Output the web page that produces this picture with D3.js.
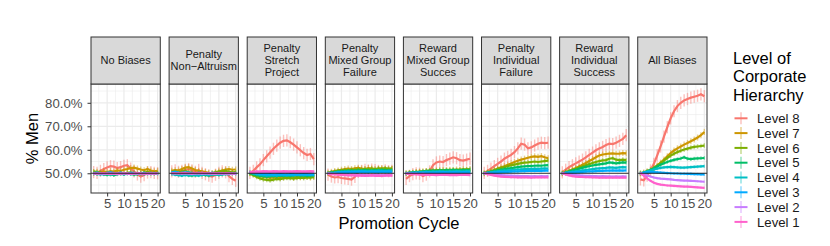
<!DOCTYPE html>
<html lang="en">
<head>
<meta charset="utf-8">
<title>% Men by level</title>
<script src="https://d3js.org/d3.v7.min.js"></script>
<style>
  body { margin: 0; background: #fff; }
  text { font-family: "Liberation Sans", Arial, sans-serif; }
</style>
</head>
<body>
<div id="chart"></div>
<script>
// ---- data ----
var panelNames = ["No Biases", "Penalty\nNon\u2212Altruism", "Penalty\nStretch\nProject",
  "Penalty\nMixed Group\nFailure", "Reward\nMixed Group\nSucces", "Penalty\nIndividual\nFailure",
  "Reward\nIndividual\nSuccess", "All Biases"];
var levels = ["Level 8", "Level 7", "Level 6", "Level 5", "Level 4", "Level 3", "Level 2", "Level 1"];
var levelColors = ["#F8766D", "#CD9600", "#7CAE00", "#00BE67", "#00BFC4", "#00A9FF", "#C77CFF", "#FF61CC"];
var errHalf = [2.6, 1.3, 1.0, 0.8, 0.7, 0.6, 0.5, 0.5];   // error bar half-widths per level
var cycles = [1, 2, 3, 4, 5, 6, 7, 8, 9, 10, 11, 12, 13, 14, 15, 16, 17, 18, 19, 20];
var yTicks = [50, 60, 70, 80];
var xTicks = [5, 10, 15, 20];

// each panel: one row per level, Level 8 first
var noBiases = [
  [50.5, 50.2, 51.0, 51.8, 52.5, 53.0, 52.8, 52.2, 52.6, 53.2, 53.4, 52.0, 50.8, 49.5, 48.6, 49.2, 50.3, 50.5, 50.2, 50.0],
  [50.3, 50.6, 50.4, 50.8, 50.5, 50.9, 50.7, 51.2, 51.0, 51.5, 51.8, 52.2, 52.4, 52.0, 51.6, 51.3, 51.8, 51.2, 50.8, 51.0],
  [50.8, 50.5, 50.2, 49.8, 50.0, 49.7, 49.5, 49.9, 50.1, 49.8, 50.2, 50.4, 50.1, 49.8, 50.0, 50.3, 50.6, 50.2, 50.0, 50.1],
  [49.8, 49.6, 49.9, 49.5, 49.3, 49.6, 49.2, 49.5, 49.8, 49.6, 49.9, 49.7, 49.4, 49.6, 49.9, 50.0, 49.8, 49.7, 49.9, 50.0],
  [49.9, 49.7, 49.5, 49.6, 49.8, 49.4, 49.6, 49.9, 49.7, 49.5, 49.8, 49.6, 49.9, 50.0, 49.7, 49.6, 49.8, 49.9, 49.7, 49.8],
  [50.1, 50.3, 50.0, 49.8, 50.2, 50.4, 50.1, 49.9, 50.3, 50.0, 49.8, 50.2, 50.1, 49.9, 50.0, 50.2, 49.9, 50.1, 50.0, 49.9],
  [49.8, 49.9, 50.1, 49.7, 49.9, 50.0, 49.8, 49.6, 49.9, 50.1, 49.8, 49.7, 49.9, 49.8, 50.0, 49.8, 49.7, 49.9, 50.0, 49.8],
  [50.0, 49.8, 49.9, 50.1, 49.9, 49.7, 49.9, 50.0, 49.8, 49.9, 50.0, 49.8, 49.9, 50.1, 49.9, 49.8, 50.0, 49.9, 49.8, 50.0]
];
var nonAltruism = [
  [50.8, 51.2, 50.6, 51.0, 51.5, 51.8, 51.2, 50.6, 51.4, 50.2, 49.6, 49.0, 48.6, 49.4, 50.2, 50.8, 50.4, 48.8, 47.6, 46.8],
  [51.0, 51.3, 51.2, 51.8, 52.4, 52.6, 52.0, 51.4, 51.0, 50.8, 50.5, 50.2, 50.0, 50.4, 50.8, 51.2, 51.6, 51.8, 51.5, 51.6],
  [50.6, 50.8, 50.4, 50.7, 51.0, 50.5, 50.2, 49.8, 50.0, 49.6, 49.4, 49.8, 50.1, 50.4, 50.6, 50.8, 51.0, 50.6, 50.4, 50.5],
  [49.8, 49.6, 49.4, 49.2, 49.5, 49.1, 49.0, 49.3, 49.2, 49.5, 49.3, 49.0, 49.4, 49.6, 49.3, 49.5, 49.7, 49.8, 49.9, 50.0],
  [49.6, 49.4, 49.2, 49.0, 49.3, 49.1, 49.4, 49.2, 49.0, 49.3, 49.5, 49.2, 49.4, 49.6, 49.3, 49.5, 49.7, 49.6, 49.8, 49.7],
  [50.4, 50.6, 50.3, 50.2, 50.5, 50.3, 50.1, 50.0, 50.2, 50.1, 49.9, 50.0, 50.2, 50.1, 50.0, 49.8, 49.9, 50.0, 49.8, 49.9],
  [50.0, 49.9, 50.1, 49.8, 50.0, 49.9, 49.7, 49.9, 50.0, 49.8, 49.9, 50.0, 49.8, 49.7, 49.9, 50.0, 49.8, 49.9, 49.8, 49.7],
  [50.1, 50.0, 49.9, 50.1, 50.2, 50.0, 49.9, 50.1, 50.0, 50.2, 50.1, 49.9, 50.0, 50.1, 50.0, 49.9, 50.1, 50.0, 49.9, 50.0]
];
var stretchProject = [
  [50.2, 51.0, 52.5, 53.8, 55.6, 57.2, 58.8, 60.4, 61.8, 63.0, 63.8, 64.0, 63.2, 62.2, 61.0, 59.8, 58.6, 57.8, 58.2, 56.0],
  [50.0, 49.6, 49.2, 48.8, 48.5, 48.3, 48.0, 48.2, 48.4, 48.1, 48.3, 48.6, 48.4, 48.2, 48.5, 48.3, 48.6, 48.4, 48.2, 48.5],
  [49.8, 49.2, 48.4, 47.8, 47.4, 47.2, 47.0, 47.3, 47.6, 47.5, 47.8, 48.0, 47.9, 47.7, 48.0, 48.1, 47.9, 48.2, 48.1, 48.3],
  [50.0, 49.6, 49.2, 48.9, 48.8, 48.6, 48.7, 48.9, 48.8, 49.0, 48.9, 49.1, 48.9, 49.0, 49.2, 49.0, 49.1, 48.9, 49.0, 49.1],
  [50.4, 50.0, 49.6, 49.3, 49.2, 49.0, 49.1, 49.2, 49.0, 49.3, 49.2, 49.1, 49.3, 49.2, 49.4, 49.3, 49.2, 49.4, 49.3, 49.2],
  [50.6, 50.2, 49.9, 49.7, 49.6, 49.5, 49.6, 49.4, 49.5, 49.6, 49.5, 49.4, 49.6, 49.5, 49.4, 49.5, 49.6, 49.5, 49.4, 49.5],
  [50.3, 50.4, 50.5, 50.6, 50.5, 50.7, 50.6, 50.5, 50.7, 50.6, 50.5, 50.6, 50.7, 50.6, 50.5, 50.6, 50.7, 50.6, 50.5, 50.6],
  [50.5, 50.6, 50.8, 50.7, 50.9, 50.8, 50.7, 50.9, 50.8, 50.7, 50.9, 50.8, 50.7, 50.8, 50.9, 50.8, 50.7, 50.8, 50.9, 50.8]
];
var mixedFailure = [
  [49.4, 48.6, 48.2, 48.4, 48.0, 47.8, 47.6, 47.3, 48.5, 50.6, 51.0, 51.4, 51.2, 51.6, 51.3, 51.0, 50.8, 51.2, 50.9, 51.0],
  [50.2, 50.6, 50.9, 51.2, 51.5, 51.8, 52.0, 51.8, 52.1, 52.3, 52.0, 51.8, 52.2, 52.0, 51.7, 51.9, 52.1, 51.8, 51.6, 51.9],
  [50.0, 50.4, 50.8, 51.0, 51.2, 51.4, 51.3, 51.6, 51.5, 51.8, 51.6, 51.9, 51.7, 52.0, 51.8, 52.1, 51.9, 52.2, 52.0, 52.1],
  [50.1, 50.3, 50.5, 50.7, 50.8, 50.9, 51.0, 51.1, 51.0, 51.2, 51.1, 51.3, 51.2, 51.1, 51.3, 51.2, 51.4, 51.3, 51.2, 51.4],
  [50.0, 50.2, 50.3, 50.5, 50.6, 50.7, 50.8, 50.7, 50.9, 50.8, 51.0, 50.9, 50.8, 51.0, 50.9, 51.1, 51.0, 50.9, 51.0, 51.1],
  [49.9, 50.0, 50.1, 50.3, 50.4, 50.5, 50.4, 50.6, 50.5, 50.6, 50.7, 50.6, 50.5, 50.7, 50.6, 50.5, 50.7, 50.6, 50.7, 50.6],
  [50.0, 49.8, 49.7, 49.6, 49.5, 49.4, 49.3, 49.4, 49.3, 49.2, 49.3, 49.2, 49.1, 49.2, 49.3, 49.2, 49.1, 49.2, 49.3, 49.2],
  [49.8, 49.6, 49.5, 49.4, 49.3, 49.2, 49.1, 49.2, 49.0, 49.1, 49.0, 48.9, 49.0, 49.1, 48.9, 49.0, 48.9, 49.0, 49.1, 49.0]
];
var mixedSuccess = [
  [47.6, 48.8, 49.6, 50.0, 49.8, 48.8, 49.4, 50.8, 53.4, 54.6, 55.0, 54.8, 55.6, 56.2, 56.8, 56.4, 55.6, 55.4, 55.8, 56.2],
  [50.0, 50.2, 50.3, 50.5, 50.6, 50.8, 50.9, 51.0, 51.1, 51.2, 51.3, 51.4, 51.3, 51.5, 51.4, 51.6, 51.5, 51.7, 51.6, 51.8],
  [50.1, 50.3, 50.4, 50.6, 50.7, 50.8, 51.0, 51.1, 51.0, 51.2, 51.3, 51.2, 51.4, 51.3, 51.5, 51.4, 51.6, 51.5, 51.7, 51.6],
  [50.0, 50.2, 50.4, 50.5, 50.6, 50.8, 50.9, 51.0, 51.1, 51.0, 51.2, 51.1, 51.3, 51.2, 51.4, 51.3, 51.2, 51.4, 51.3, 51.5],
  [49.9, 50.1, 50.2, 50.3, 50.4, 50.5, 50.6, 50.5, 50.7, 50.6, 50.8, 50.7, 50.6, 50.8, 50.7, 50.9, 50.8, 50.7, 50.9, 50.8],
  [50.0, 50.1, 50.2, 50.1, 50.3, 50.2, 50.4, 50.3, 50.2, 50.4, 50.3, 50.5, 50.4, 50.3, 50.5, 50.4, 50.3, 50.5, 50.4, 50.3],
  [49.9, 49.8, 49.7, 49.8, 49.6, 49.7, 49.6, 49.5, 49.6, 49.5, 49.4, 49.5, 49.6, 49.5, 49.4, 49.5, 49.4, 49.5, 49.6, 49.5],
  [49.8, 49.7, 49.6, 49.5, 49.4, 49.5, 49.3, 49.4, 49.3, 49.2, 49.3, 49.4, 49.3, 49.2, 49.3, 49.2, 49.3, 49.4, 49.3, 49.2]
];
var indivFailure = [
  [50.2, 51.0, 52.0, 53.0, 54.0, 55.0, 56.2, 57.0, 57.8, 59.0, 60.6, 62.6, 62.2, 60.6, 61.0, 61.8, 62.6, 63.0, 62.8, 63.0],
  [50.0, 50.4, 50.9, 51.4, 52.0, 52.5, 53.0, 53.6, 54.2, 54.8, 55.3, 55.8, 56.2, 56.6, 57.0, 57.2, 57.0, 57.3, 56.8, 56.4],
  [50.0, 50.4, 50.8, 51.3, 51.8, 52.2, 52.6, 53.0, 53.4, 53.7, 54.0, 54.3, 54.5, 54.6, 54.8, 55.0, 54.8, 55.0, 55.2, 55.4],
  [50.0, 50.3, 50.6, 50.9, 51.2, 51.5, 51.8, 52.0, 52.2, 52.4, 52.6, 52.8, 52.9, 53.0, 53.1, 53.2, 53.3, 53.2, 53.4, 53.5],
  [50.0, 50.2, 50.4, 50.6, 50.8, 51.0, 51.1, 51.2, 51.4, 51.5, 51.6, 51.7, 51.8, 51.8, 51.9, 52.0, 51.9, 52.0, 52.1, 52.0],
  [50.0, 50.1, 50.2, 50.3, 50.4, 50.5, 50.6, 50.6, 50.7, 50.8, 50.8, 50.9, 50.9, 51.0, 51.0, 51.0, 51.1, 51.0, 51.1, 51.1],
  [50.0, 49.8, 49.6, 49.4, 49.3, 49.2, 49.1, 49.0, 49.0, 48.9, 48.9, 48.8, 48.8, 48.8, 48.7, 48.8, 48.7, 48.8, 48.7, 48.8],
  [50.0, 49.6, 49.3, 49.0, 48.8, 48.6, 48.5, 48.4, 48.3, 48.3, 48.2, 48.2, 48.3, 48.2, 48.1, 48.2, 48.3, 48.2, 48.3, 48.2]
];
var indivSuccess = [
  [50.4, 51.5, 52.6, 53.4, 54.2, 55.0, 55.8, 56.8, 57.8, 58.8, 59.8, 60.6, 61.2, 62.0, 62.6, 62.4, 63.0, 63.8, 64.6, 66.2],
  [50.0, 50.5, 51.0, 51.6, 52.2, 52.9, 53.6, 54.4, 55.2, 56.0, 56.8, 57.6, 58.0, 58.2, 58.4, 58.5, 58.3, 58.4, 58.6, 58.5],
  [50.0, 50.4, 50.9, 51.4, 51.9, 52.4, 52.9, 53.4, 53.9, 54.4, 54.8, 55.2, 55.5, 55.6, 56.2, 56.4, 55.8, 55.6, 55.8, 55.6],
  [50.0, 50.3, 50.7, 51.1, 51.5, 51.9, 52.3, 52.7, 53.0, 53.3, 53.6, 53.8, 54.0, 54.2, 54.6, 54.4, 54.2, 54.4, 54.6, 54.5],
  [50.0, 50.2, 50.4, 50.6, 50.8, 51.0, 51.2, 51.4, 51.6, 51.8, 52.0, 52.1, 52.2, 52.3, 52.5, 52.4, 52.3, 52.5, 52.6, 52.5],
  [50.0, 50.1, 50.2, 50.3, 50.4, 50.5, 50.6, 50.7, 50.8, 50.8, 50.9, 51.0, 51.0, 51.1, 51.1, 51.2, 51.1, 51.2, 51.1, 51.2],
  [50.0, 49.7, 49.5, 49.3, 49.2, 49.1, 49.0, 48.9, 48.9, 48.8, 48.8, 48.7, 48.8, 48.7, 48.7, 48.6, 48.7, 48.6, 48.7, 48.6],
  [50.0, 49.5, 49.1, 48.8, 48.6, 48.5, 48.4, 48.3, 48.3, 48.2, 48.2, 48.1, 48.2, 48.1, 48.2, 48.1, 48.2, 48.1, 48.2, 48.1]
];
var allBiases = [
  [47.4, 47.0, 49.0, 51.2, 54.0, 57.6, 61.4, 65.6, 69.6, 73.4, 76.4, 78.6, 80.0, 81.0, 81.6, 82.2, 82.6, 83.0, 83.6, 82.8],
  [50.0, 50.3, 50.8, 51.5, 52.3, 53.3, 54.5, 55.8, 57.2, 58.6, 59.7, 60.6, 61.4, 62.2, 62.9, 63.6, 64.4, 65.2, 66.2, 67.6],
  [50.0, 50.3, 50.8, 51.4, 52.2, 53.2, 54.3, 55.4, 56.5, 57.5, 58.3, 59.0, 59.6, 60.1, 60.5, 60.9, 61.2, 61.4, 61.6, 61.8],
  [50.0, 50.3, 50.8, 51.4, 52.1, 52.9, 53.6, 54.3, 54.8, 55.3, 55.7, 56.0, 56.3, 56.8, 56.2, 56.0, 56.2, 56.3, 56.4, 56.5],
  [50.0, 50.3, 50.7, 51.2, 51.6, 52.0, 52.3, 52.5, 52.6, 52.7, 52.6, 52.5, 52.4, 52.4, 52.5, 52.6, 52.7, 52.8, 52.9, 53.0],
  [50.0, 50.2, 50.4, 50.5, 50.5, 50.4, 50.3, 50.2, 50.1, 50.0, 49.9, 49.9, 49.8, 49.8, 49.7, 49.7, 49.6, 49.6, 49.5, 49.5],
  [50.0, 49.6, 49.1, 48.6, 48.2, 47.9, 47.7, 47.6, 47.5, 47.4, 47.2, 47.1, 47.0, 46.9, 46.9, 46.8, 46.7, 46.6, 46.5, 46.4],
  [50.0, 49.0, 47.8, 46.8, 46.0, 45.5, 45.2, 45.0, 44.8, 44.7, 44.6, 44.5, 44.4, 44.3, 44.3, 44.2, 44.1, 44.0, 43.9, 43.8]
];
var panelData = [noBiases, nonAltruism, stretchProject, mixedFailure, mixedSuccess, indivFailure, indivSuccess, allBiases];

// ---- layout ----
var width = 830, height = 246;
var plotTop = 84, plotBottom = 193, stripTop = 37;

var svg = d3.select("#chart").append("svg")
  .attr("width", width).attr("height", height);

var px = d3.scaleBand().domain(d3.range(panelNames.length)).range([91, 707]).paddingInner(0.113);
var bw = px.bandwidth();
var x = d3.scaleLinear().domain([0.2, 20.8]).range([0, bw]);
var y = d3.scaleLinear().domain([41.6, 88]).range([plotBottom, plotTop]);
var fmt = d3.format(".1%");

var line = d3.line().x(function(d) { return x(d[0]); }).y(function(d) { return y(d[1]); });

panelData.forEach(function(rows, p) {
  var g = svg.append("g").attr("transform", "translate(" + px(p) + ",0)");

  // minor grid
  g.selectAll(".ymin").data([45, 55, 65, 75, 85]).enter().append("line")
    .attr("x1", 0).attr("x2", bw).attr("y1", y).attr("y2", y)
    .attr("stroke", "#EBEBEB").attr("stroke-width", 0.6);
  g.selectAll(".xmin").data([2.5, 7.5, 12.5, 17.5]).enter().append("line")
    .attr("y1", plotTop).attr("y2", plotBottom).attr("x1", x).attr("x2", x)
    .attr("stroke", "#EBEBEB").attr("stroke-width", 0.6);
  // major grid
  g.selectAll(".ymaj").data(yTicks).enter().append("line")
    .attr("x1", 0).attr("x2", bw).attr("y1", y).attr("y2", y)
    .attr("stroke", "#EBEBEB").attr("stroke-width", 1.2);
  g.selectAll(".xmaj").data(xTicks).enter().append("line")
    .attr("y1", plotTop).attr("y2", plotBottom).attr("x1", x).attr("x2", x)
    .attr("stroke", "#EBEBEB").attr("stroke-width", 1.2);

  // series: Level 8 drawn first, Level 1 last
  rows.forEach(function(vals, li) {
    var pts = vals.map(function(v, i) { return [cycles[i], v]; });
    var col = levelColors[li], e = errHalf[li];
    g.append("g").selectAll("line").data(pts).enter().append("line")
      .attr("x1", function(d) { return x(d[0]); }).attr("x2", function(d) { return x(d[0]); })
      .attr("y1", function(d) { return y(d[1] - e); }).attr("y2", function(d) { return y(d[1] + e); })
      .attr("stroke", col).attr("stroke-opacity", 0.45).attr("stroke-width", 1.4);
    g.append("path").datum(pts).attr("d", line)
      .attr("fill", "none").attr("stroke", col).attr("stroke-width", 2.2);
  });

  // reference line at 50%
  g.append("line").attr("x1", 0).attr("x2", bw).attr("y1", y(50)).attr("y2", y(50))
    .attr("stroke", "#1a1a1a").attr("stroke-width", 0.9);

  // panel border
  g.append("rect").attr("x", 0).attr("y", plotTop).attr("width", bw).attr("height", plotBottom - plotTop)
    .attr("fill", "none").attr("stroke", "#333").attr("stroke-width", 1);

  // strip
  g.append("rect").attr("x", 0).attr("y", stripTop).attr("width", bw).attr("height", plotTop - stripTop)
    .attr("fill", "#D9D9D9").attr("stroke", "#333").attr("stroke-width", 1);
  var lines = panelNames[p].split("\n");
  var st = g.append("text").attr("text-anchor", "middle").attr("font-size", 11).attr("fill", "#1A1A1A");
  lines.forEach(function(t, i) {
    st.append("tspan").attr("x", bw / 2)
      .attr("y", (stripTop + plotTop) / 2 + (i - (lines.length - 1) / 2) * 12)
      .attr("dy", "0.35em").text(t);
  });

  // x axis
  var xa = g.append("g").attr("transform", "translate(0," + plotBottom + ")")
    .call(d3.axisBottom(x).tickValues(xTicks).tickSize(3.5).tickPadding(2.5).tickSizeOuter(0));
  xa.select(".domain").remove();
  xa.selectAll("line").attr("stroke", "#333");
  xa.selectAll("text").attr("font-size", 13.2).attr("fill", "#4D4D4D")
    .attr("font-family", "Liberation Sans, Arial, sans-serif");
});

// y axis on first panel
var ya = svg.append("g").attr("transform", "translate(" + px(0) + ",0)")
  .call(d3.axisLeft(y).tickValues(yTicks).tickFormat(function(d) { return fmt(d / 100); })
    .tickSize(3.5).tickPadding(5).tickSizeOuter(0));
ya.select(".domain").remove();
ya.selectAll("line").attr("stroke", "#333");
ya.selectAll("text").attr("font-size", 13.2).attr("fill", "#4D4D4D")
  .attr("font-family", "Liberation Sans, Arial, sans-serif");

// axis titles
svg.append("text").attr("transform", "translate(32," + ((plotTop + plotBottom) / 2) + ") rotate(-90)")
  .attr("text-anchor", "middle").attr("dy", "0.35em").attr("font-size", 16.5).text("% Men");
svg.append("text").attr("x", (91 + 707) / 2).attr("y", 223).attr("dy", "0.35em")
  .attr("text-anchor", "middle").attr("font-size", 16.5).text("Promotion Cycle");

// legend
var lg = svg.append("g");
["Level of", "Corporate", "Hierarchy"].forEach(function(t, i) {
  lg.append("text").attr("x", 733).attr("y", 58 + i * 18.5).attr("dy", "0.35em")
    .attr("font-size", 16.5).text(t);
});
levels.forEach(function(lv, i) {
  var cy = 118.3 + i * 14.8;
  lg.append("line").attr("x1", 741).attr("x2", 741).attr("y1", cy - 6).attr("y2", cy + 6)
    .attr("stroke", levelColors[i]).attr("stroke-opacity", 0.5).attr("stroke-width", 1.3);
  lg.append("line").attr("x1", 734.5).attr("x2", 747.5).attr("y1", cy).attr("y2", cy)
    .attr("stroke", levelColors[i]).attr("stroke-width", 2);
  lg.append("text").attr("x", 757).attr("y", cy).attr("dy", "0.35em")
    .attr("font-size", 13.2).attr("fill", "#1A1A1A").text(lv);
});
</script>
</body>
</html>
